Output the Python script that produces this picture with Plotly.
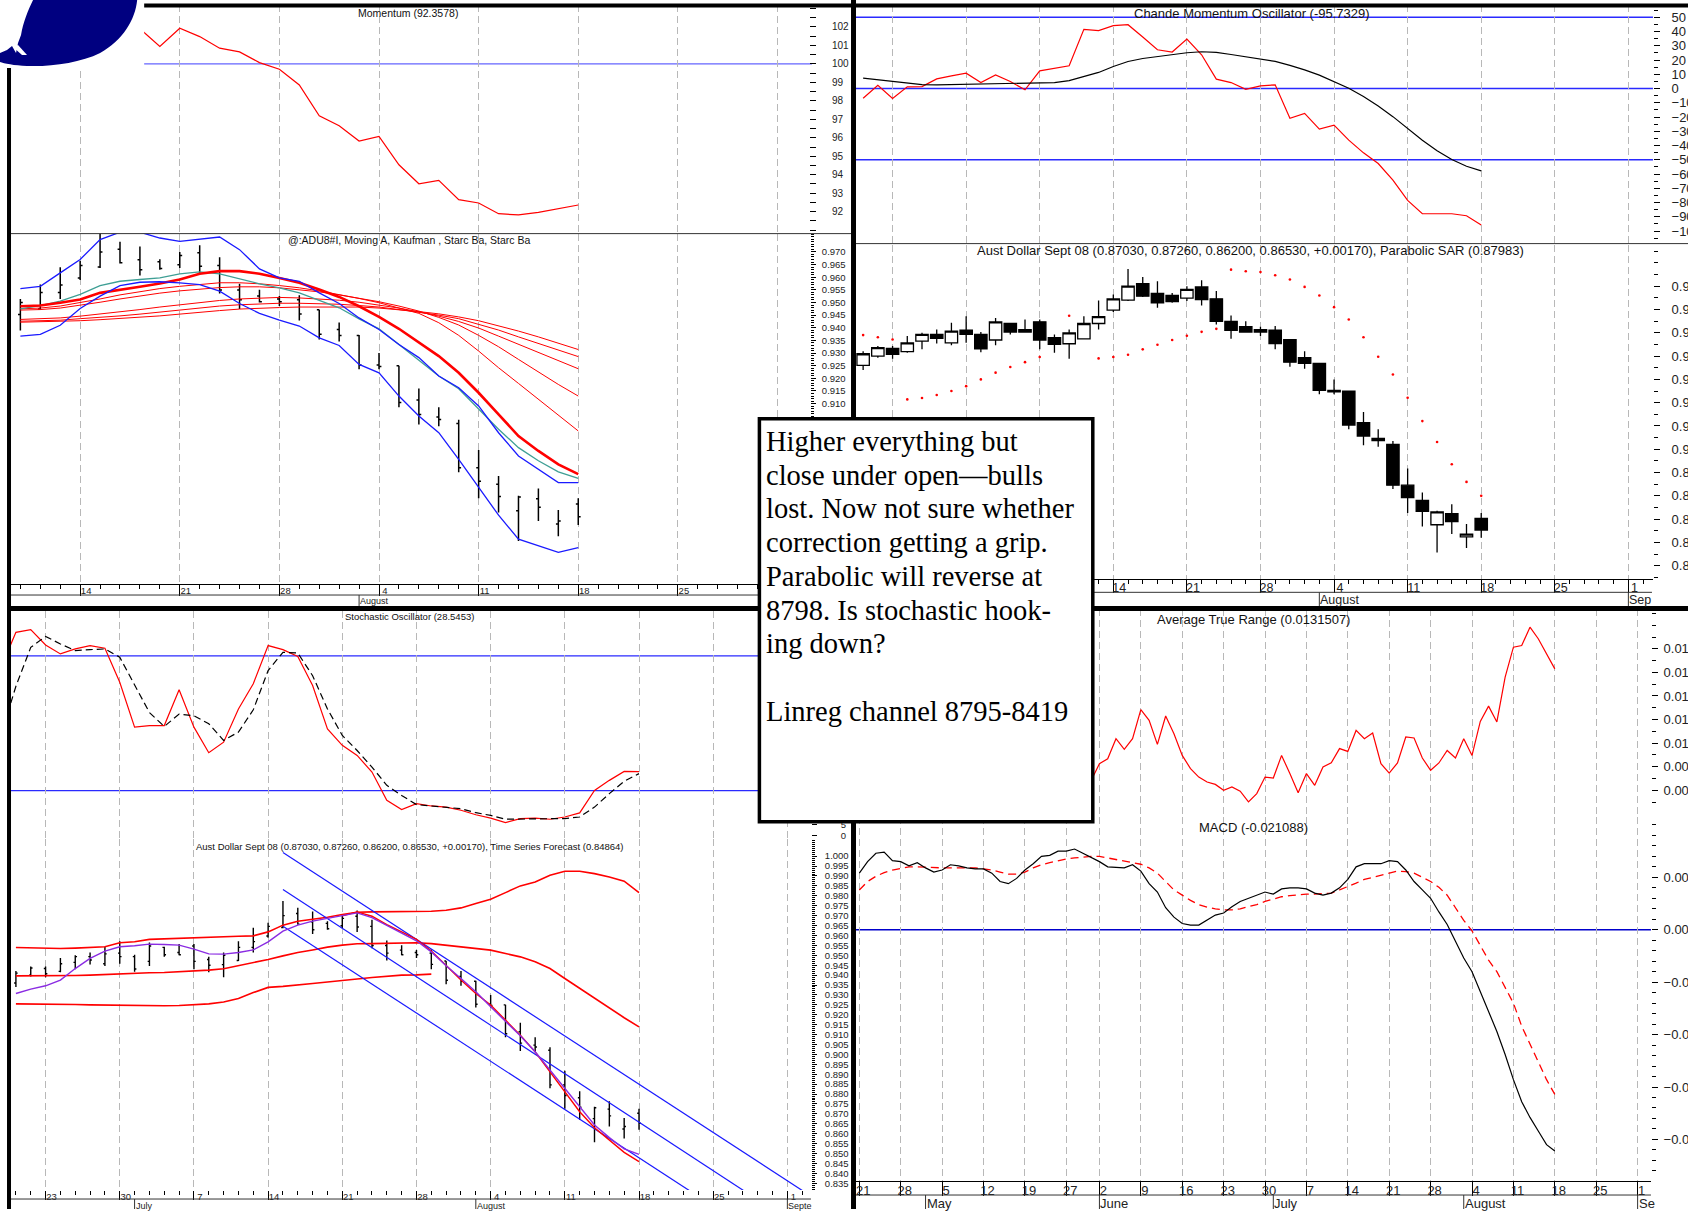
import re
import plotly.graph_objects as go

W, H = 1688, 1211          # design grid (target picture size)
FIG_W = 1704               # rendered page width (the page is captured at this width)
SANS = "Liberation Sans, Arial, sans-serif"
SERIF = "Liberation Serif, Times New Roman, serif"

# ---------------------------------------------------------------- data
# x = trading-day index, 0 = Monday 14 July 2008
bar_idx = list(range(-17, 26))
bar_open = [0.9360, 0.9400, 0.9433, 0.9419, 0.9464, 0.9493, 0.9457, 0.9511, 0.9493, 0.9469, 0.9540,
            0.9514, 0.9547, 0.9479, 0.9453, 0.9474, 0.9540, 0.9597, 0.9640, 0.9711, 0.9669, 0.9661,
            0.9649, 0.9697, 0.9646, 0.9549, 0.9526, 0.9514, 0.9511, 0.9471, 0.9393, 0.9369, 0.9253,
            0.9250, 0.9114, 0.9047, 0.9021, 0.8846, 0.8781, 0.8676, 0.8724, 0.8624, 0.8703]
bar_high = [0.9421, 0.9443, 0.9443, 0.9486, 0.9500, 0.9514, 0.9543, 0.9571, 0.9503, 0.9564, 0.9543,
            0.9557, 0.9557, 0.9493, 0.9514, 0.9571, 0.9639, 0.9664, 0.9774, 0.9740, 0.9721, 0.9671,
            0.9700, 0.9726, 0.9679, 0.9574, 0.9550, 0.9526, 0.9529, 0.9471, 0.9421, 0.9371, 0.9300,
            0.9250, 0.9160, 0.9086, 0.9036, 0.8917, 0.8814, 0.8736, 0.8764, 0.8679, 0.8726]
bar_low = [0.9340, 0.9393, 0.9389, 0.9414, 0.9429, 0.9454, 0.9446, 0.9457, 0.9417, 0.9446, 0.9493,
           0.9500, 0.9429, 0.9414, 0.9389, 0.9471, 0.9514, 0.9589, 0.9636, 0.9654, 0.9607, 0.9629,
           0.9636, 0.9617, 0.9536, 0.9474, 0.9500, 0.9486, 0.9429, 0.9354, 0.9346, 0.9236, 0.9236,
           0.9086, 0.9017, 0.9011, 0.8829, 0.8726, 0.8669, 0.8557, 0.8636, 0.8576, 0.8620]
bar_close = [0.9410, 0.9436, 0.9407, 0.9457, 0.9493, 0.9476, 0.9507, 0.9493, 0.9431, 0.9547, 0.9503,
             0.9503, 0.9469, 0.9450, 0.9500, 0.9540, 0.9569, 0.9646, 0.9700, 0.9657, 0.9629, 0.9634,
             0.9686, 0.9643, 0.9549, 0.9511, 0.9503, 0.9503, 0.9454, 0.9374, 0.9369, 0.9253, 0.9247,
             0.9104, 0.9057, 0.9037, 0.8846, 0.8793, 0.8733, 0.8731, 0.8690, 0.8636, 0.8653]
parabolic_sar = [0.9490, 0.9481, 0.9471, 0.9214, 0.9220, 0.9233, 0.9250, 0.9271, 0.9300, 0.9329, 0.9353,
                 0.9374, 0.9396, None, 0.9573, None, 0.9390, 0.9396, 0.9406, 0.9429, 0.9449, 0.9469,
                 0.9487, 0.9504, 0.9517, 0.9771, 0.9764, 0.9761, 0.9747, 0.9729, 0.9697, 0.9660, 0.9610,
                 0.9557, 0.9481, 0.9397, 0.9321, 0.9221, 0.9121, 0.9031, 0.8936, 0.8860, 0.8800]

# top-left: momentum + moving averages / Kaufman / Starc bands
mom_idx = list(range(3, 26))
momentum = [101.9, 100.94, 101.93, 101.48, 100.85, 100.65, 100.07, 99.71, 98.86, 97.19, 96.65, 95.82,
            96.07, 94.54, 93.51, 93.69, 92.65, 92.47, 91.89, 91.82, 91.96, 92.14, 92.36]
mom_level = [100]
tl_idx = list(range(-3, 26))
starc_upper = [0.9555, 0.9564, 0.9617, 0.9670, 0.9749, 0.9778, 0.9778, 0.9755, 0.9742, 0.9751, 0.9759,
               0.9709, 0.9633, 0.9597, 0.9584, 0.9538, 0.9496, 0.9439, 0.9393, 0.9334, 0.9282, 0.9209,
               0.9163, 0.9091, 0.8985, 0.8893, 0.8841, 0.8788, 0.8788]
starc_lower = [0.9367, 0.9374, 0.9410, 0.9476, 0.9525, 0.9567, 0.9580, 0.9582, 0.9578, 0.9571, 0.9545,
               0.9496, 0.9457, 0.9430, 0.9407, 0.9360, 0.9330, 0.9255, 0.9222, 0.9130, 0.9051, 0.8985,
               0.8880, 0.8768, 0.8659, 0.8564, 0.8538, 0.8512, 0.8531]
kaufman = [0.9475, 0.9488, 0.9505, 0.9532, 0.9567, 0.9584, 0.9591, 0.9597, 0.9613, 0.9621, 0.9613,
           0.9593, 0.9574, 0.9558, 0.9538, 0.9508, 0.9479, 0.9435, 0.9396, 0.9334, 0.9272, 0.9209,
           0.9159, 0.9078, 0.8999, 0.8926, 0.8874, 0.8830, 0.8804]
ma_fast = [0.9485, 0.9488, 0.9499, 0.9512, 0.9538, 0.9549, 0.9562, 0.9575, 0.9591, 0.9614, 0.9624,
           0.9624, 0.9614, 0.9597, 0.9578, 0.9551, 0.9522, 0.9485, 0.9443, 0.9396, 0.9341, 0.9288,
           0.9222, 0.9143, 0.9058, 0.8972, 0.8913, 0.8860, 0.8821]
ma_1 = [0.9475, 0.9478, 0.9486, 0.9499, 0.9514, 0.9530, 0.9543, 0.9555, 0.9564, 0.9572, 0.9578, 0.9578,
        0.9574, 0.9567, 0.9558, 0.9546, 0.9532, 0.9516, 0.9499, 0.9479, 0.9457, 0.9420, 0.9370, 0.9308,
        0.9242, 0.9180, 0.9117, 0.9054, 0.8992]
ma_2 = [0.9470, 0.9472, 0.9478, 0.9488, 0.9501, 0.9514, 0.9526, 0.9537, 0.9546, 0.9554, 0.9559, 0.9562,
        0.9562, 0.9558, 0.9551, 0.9542, 0.9530, 0.9517, 0.9503, 0.9486, 0.9466, 0.9441, 0.9411, 0.9370,
        0.9325, 0.9275, 0.9225, 0.9176, 0.9130]
ma_3 = [0.9433, 0.9436, 0.9439, 0.9446, 0.9454, 0.9463, 0.9472, 0.9482, 0.9491, 0.9500, 0.9508, 0.9514,
        0.9518, 0.9520, 0.9518, 0.9514, 0.9509, 0.9501, 0.9491, 0.9478, 0.9463, 0.9446, 0.9425, 0.9399,
        0.9367, 0.9334, 0.9301, 0.9268, 0.9238]
ma_4 = [0.9426, 0.9428, 0.9430, 0.9436, 0.9441, 0.9447, 0.9454, 0.9462, 0.9470, 0.9478, 0.9486, 0.9491,
        0.9495, 0.9497, 0.9497, 0.9496, 0.9493, 0.9488, 0.9482, 0.9472, 0.9462, 0.9450, 0.9436, 0.9414,
        0.9391, 0.9364, 0.9339, 0.9312, 0.9286]
ma_5 = [0.9422, 0.9424, 0.9425, 0.9428, 0.9432, 0.9436, 0.9441, 0.9447, 0.9454, 0.9462, 0.9468, 0.9474,
        0.9478, 0.9480, 0.9482, 0.9483, 0.9483, 0.9482, 0.9478, 0.9472, 0.9464, 0.9455, 0.9443, 0.9428,
        0.9408, 0.9387, 0.9364, 0.9339, 0.9314]

# top-right: Chande momentum oscillator
cmo_idx = list(range(-17, 26))
cmo = [-6.8, 2.3, -7.0, 1.2, 1.4, 6.8, 8.9, 10.8, 4.2, 9.6, 4.9, -0.9, 12.4, 14.1, 16.0, 41.5, 40.6,
       44.1, 44.8, 36.2, 27.2, 25.6, 34.7, 23.7, 6.6, 4.2, -0.5, 1.9, 2.6, -20.9, -17.4, -28.4, -25.6,
       -36.2, -45.1, -52.6, -64.3, -78.4, -87.8, -87.8, -87.8, -89.2, -95.7]
cmo_avg = [7.3, 6.1, 4.7, 3.8, 2.8, 2.6, 2.8, 2.8, 3.1, 3.1, 3.1, 3.3, 3.5, 4.2, 5.6, 8.5, 11.3, 15.5,
           19.0, 21.1, 22.5, 23.5, 25.1, 25.8, 25.4, 23.9, 22.1, 20.7, 19.0, 16.2, 13.1, 9.4, 4.9, 0.2,
           -5.6, -12.2, -19.7, -27.9, -36.2, -43.7, -49.8, -54.5, -57.7]
cmo_levels = [50, 0, -50]

# bottom-left: stochastic + time series forecast / bands / linreg channel
stoch_idx = list(range(-18, 26))
stoch_k = [75, 90.5, 91.7, 84.9, 80.9, 83.1, 84.6, 83.4, 68.3, 48.3, 49.0, 49.0, 64.9, 48.3, 36.9, 41.6,
           56.4, 67.6, 84.6, 82.8, 79.8, 66.8, 47.5, 40.2, 35.7, 28.3, 15.7, 11.6, 14.2, 13.2, 12.7, 11.3,
           9.3, 7.8, 5.8, 7.6, 7.8, 7.3, 8.3, 10.1, 20.1, 24.6, 28.6, 28.5]
stoch_d = [45, 66.5, 83.8, 88.7, 85.3, 82.4, 82.8, 83.1, 79.4, 66.8, 54.8, 48.6, 54.1, 53.4, 49.8, 42.4,
           46.1, 56.0, 73.5, 81.6, 81.3, 71.2, 56.4, 44.6, 37.9, 30.5, 22.4, 17.9, 13.8, 13.2, 12.7, 12.0,
           10.2, 9.0, 7.3, 7.3, 7.6, 7.6, 7.6, 8.3, 12.7, 18.7, 24.2, 27.6]
stoch_levels = [80, 20]
bl_idx = list(range(-17, 26))
band_top = [0.9539, 0.9538, 0.9534, 0.9534, 0.9536, 0.9538, 0.9543, 0.9563, 0.9568, 0.9580, 0.9583,
            0.9585, 0.9588, 0.9592, 0.9596, 0.9596, 0.9598, 0.9618, 0.9652, 0.9672, 0.9682, 0.9692,
            0.9706, 0.9717, 0.9719, 0.9719, 0.9719, 0.9719, 0.9722, 0.9727, 0.9739, 0.9761, 0.9783,
            0.9816, 0.9850, 0.9870, 0.9904, 0.9924, 0.9924, 0.9912, 0.9895, 0.9874, 0.9816]
band_mid = [0.9396, 0.9396, 0.9395, 0.9396, 0.9398, 0.9400, 0.9403, 0.9408, 0.9410, 0.9412, 0.9413,
            0.9417, 0.9420, 0.9425, 0.9432, 0.9447, 0.9464, 0.9479, 0.9497, 0.9514, 0.9527, 0.9541,
            0.9551, 0.9558, 0.9559, 0.9561, 0.9563, 0.9563, 0.9559, 0.9551, 0.9543, 0.9534, 0.9526,
            0.9509, 0.9492, 0.9467, 0.9433, 0.9383, 0.9333, 0.9282, 0.9232, 0.9185, 0.9139]
band_low_idx = list(range(-17, 12))
band_low = [0.9255, 0.9255, 0.9255, 0.9254, 0.9252, 0.9250, 0.9249, 0.9249, 0.9247, 0.9245, 0.9245,
            0.9247, 0.9250, 0.9255, 0.9264, 0.9282, 0.9312, 0.9338, 0.9343, 0.9349, 0.9358, 0.9365,
            0.9371, 0.9380, 0.9388, 0.9395, 0.9400, 0.9401, 0.9405]
tsf_smooth = [0.9307, 0.9329, 0.9346, 0.9375, 0.9433, 0.9484, 0.9521, 0.9543, 0.9548, 0.9556, 0.9554,
              0.9551, 0.9531, 0.9507, 0.9506, 0.9514, 0.9527, 0.9568, 0.9622, 0.9652, 0.9672, 0.9685,
              0.9699, 0.9714, 0.9690, 0.9652, 0.9615, 0.9573, 0.9517, 0.9447, 0.9383, 0.9316, 0.9240,
              0.9165, 0.9094, 0.9013, 0.8921, 0.8829, 0.8736, 0.8644, 0.8580, 0.8523, 0.8496]
tsf_idx = list(range(5, 26))
tsf = [0.9699, 0.9719, 0.9697, 0.9655, 0.9618, 0.9580, 0.9521, 0.9447, 0.9375, 0.9307, 0.9249, 0.9173,
       0.9097, 0.9013, 0.8913, 0.8809, 0.8711, 0.8630, 0.8568, 0.8506, 0.8459]
channel_idx = [1, 37]
channel_upper = [1.0018, 0.8265]
channel_mid = [0.9832, 0.8071]
channel_lower = [0.9647, 0.7894]

# bottom-right: ATR and MACD
atr_idx = list(range(-31, 26))
atr = [0.00842, 0.00913, 0.00934, 0.01019, 0.00974, 0.01019, 0.01142, 0.01097, 0.00995, 0.01115,
       0.01040, 0.00948, 0.00892, 0.00856, 0.00835, 0.00825, 0.00800, 0.00814, 0.00796, 0.00751,
       0.00786, 0.00856, 0.00852, 0.00948, 0.00871, 0.00790, 0.00871, 0.00821, 0.00899, 0.00917,
       0.00977, 0.00965, 0.01054, 0.01019, 0.01043, 0.00913, 0.00873, 0.00916, 0.01026, 0.01022,
       0.00937, 0.00885, 0.00916, 0.00969, 0.00937, 0.01019, 0.00948, 0.01092, 0.01157, 0.01090,
       0.01280, 0.01407, 0.01414, 0.01492, 0.01443, 0.01379, 0.01315]
macd_idx = list(range(-59, 26))
macd = [0.0054, 0.0065, 0.0073, 0.0074, 0.0066, 0.0065, 0.0061, 0.0064, 0.0059, 0.0055,
        0.0057, 0.0062, 0.0061, 0.0059, 0.0058, 0.0058, 0.0054, 0.0046, 0.0044, 0.0049,
        0.0057, 0.0063, 0.0070, 0.0071, 0.0075, 0.0075, 0.0077, 0.0073, 0.0069, 0.0065,
        0.0060, 0.00595, 0.0059, 0.0062, 0.0056, 0.0044, 0.0036, 0.0021, 0.0012, 0.0006,
        0.00045, 0.00045, 0.0009, 0.0014, 0.0016, 0.0022, 0.0027, 0.0030, 0.0033, 0.0036,
        0.0034, 0.0039, 0.0040, 0.0040, 0.0039, 0.0035, 0.0033, 0.0035, 0.0040, 0.0048,
        0.0060, 0.0063, 0.0063, 0.0063, 0.0066, 0.0065, 0.0057, 0.0046, 0.0038, 0.0030,
        0.0017, 0.0005, -0.0011, -0.0027, -0.0040, -0.0059, -0.0078, -0.0097, -0.0119, -0.0143,
        -0.0164, -0.0179, -0.0192, -0.0205, -0.0211]
macd_signal = [0.0038, 0.0046, 0.0051, 0.00545, 0.0057, 0.00585, 0.0060, 0.0060, 0.00595, 0.0059,
               0.0059, 0.0059, 0.0059, 0.0059, 0.0059, 0.0058, 0.0057, 0.0055, 0.0053, 0.0053,
               0.0055, 0.0059, 0.0062, 0.0064, 0.0066, 0.00675, 0.00685, 0.00695, 0.0070, 0.0070,
               0.00685, 0.0067, 0.00655, 0.0064, 0.00625, 0.0059, 0.0054, 0.0046, 0.0038, 0.0033,
               0.0028, 0.0024, 0.00215, 0.0020, 0.0019, 0.0019, 0.0020, 0.0022, 0.0024, 0.0027,
               0.00295, 0.00315, 0.00325, 0.00335, 0.0034, 0.0034, 0.00345, 0.0035, 0.0038, 0.0041,
               0.00445, 0.0048, 0.0050, 0.0052, 0.0054, 0.0056, 0.00555, 0.0054, 0.0050, 0.0046,
               0.00405, 0.0033, 0.0021, 0.0009, -0.0001, -0.0015, -0.0029, -0.0040, -0.0055, -0.0070,
               -0.0092, -0.0109, -0.0126, -0.0143, -0.0157]
macd_levels = [0]

# axis tick labels (Mondays) and month labels ("" where the note box hides them)
tl_mondays = [0, 5, 10, 15, 20, 25, 30, 35]
tl_day_labels = ["14", "21", "28", "4", "11", "18", "25", ""]
tl_months, tl_month_labels = [14], ["August"]
tr_mondays = [-15, -10, -5, 0, 5, 10, 15, 20, 25, 30, 35]
tr_day_labels = ["", "", "", "14", "21", "28", "4", "11", "18", "25", "1"]
tr_months, tr_month_labels = [14, 35], ["August", "Sep"]
bl_day_labels = ["23", "30", "7", "14", "21", "28", "4", "11", "18", "25", "1"]
bl_months, bl_month_labels = [-9, 14, 35], ["July", "August", "Septe"]
br_mondays = [-59, -54, -49, -44, -39, -34, -30, -25, -20, -15, -10, -5, 0, 5, 10, 15, 20, 25, 30, 35]
br_day_labels = ["21", "28", "5", "12", "19", "27", "2", "9", "16", "23", "30", "7", "14", "21",
                 "28", "4", "11", "18", "25", "1"]
br_months, br_month_labels = [-51, -30, -9, 14, 35], ["May", "June", "July", "August", "Se"]

titles = [
    ("Momentum (92.3578)", 408, 13.3, 10.5),
    ("@:ADU8#I, Moving A, Kaufman , Starc Ba, Starc Ba", 409.5, 240.7, 10.5),
    ("Chande Momentum Oscillator (-95.7329)", 1250.5, 13.3, 13),
    ("Aust Dollar Sept 08 (0.87030, 0.87260, 0.86200, 0.86530, +0.00170), Parabolic SAR (0.87983)",
     1249.3, 250.7, 13),
    ("Stochastic Oscillator (28.5453)", 409, 617.3, 9.5),
    ("Aust Dollar Sept 08 (0.87030, 0.87260, 0.86200, 0.86530, +0.00170), Time Series Forecast (0.84864)",
     410, 848.3, 9.5),
    ("Average True Range (0.0131507)", 1252, 620.7, 13),
    ("MACD (-0.021088)", 1252, 828.7, 13),
]
note_lines = ["Higher everything but", "close under open\u2014bulls", "lost. Now not sure whether",
              "correction getting a grip.", "Parabolic will reverse at", "8798. Is stochastic hook-",
              "ing down?", "", "Linreg channel 8795-8419"]


# ---------------------------------------------------------------- helpers
def PX(x):
    return x / W


def PY(y):
    return 1 - y / H


def steps(a, b, s, nd):
    n = int(round((b - a) / s))
    return [round(a + i * s, nd) for i in range(n + 1)]


GRID = dict(showgrid=True, gridcolor="#b8b8b8", griddash="7px,4px", gridwidth=1, zeroline=False,
            fixedrange=True)


def xaxis(dom, rng, anchor, mondays, labels=None, days=None, ticklen=11, fsize=9.5,
          shift=6, standoff=-11, line=True):
    d = dict(domain=[PX(dom[0]), PX(dom[1])], range=rng, anchor=anchor, tickmode="array",
             tickvals=mondays, **GRID)
    if labels is None:
        d.update(showticklabels=False, ticks="", showline=False)
    else:
        d.update(ticktext=labels, ticks="outside", ticklen=ticklen, tickcolor="black", tickwidth=1,
                 tickfont=dict(size=fsize, family=SANS, color="#222"), ticklabelshift=shift,
                 ticklabelstandoff=standoff, showline=line, linecolor="black", linewidth=1,
                 rangeslider=dict(visible=False))
        if days is not None:
            d["minor"] = dict(tickmode="array", tickvals=days, ticks="outside", ticklen=4,
                              tickcolor="black", tickwidth=1, showgrid=False)
    return d


def yaxis(dom, rng, pos, vals, minor_vals, fsize, standoff, fmt=None, ticklen=6, mlen=3):
    d = dict(domain=[PY(dom[1]), PY(dom[0])], range=rng, anchor="free", position=PX(pos), side="right",
             tickmode="array", tickvals=vals, ticks="outside", ticklen=ticklen, tickcolor="black",
             tickwidth=1, showgrid=False, zeroline=False, showline=False, fixedrange=True,
             tickfont=dict(size=fsize, family=SANS, color="#222"), ticklabelstandoff=standoff,
             minor=dict(tickmode="array", tickvals=minor_vals, ticks="outside", ticklen=mlen,
                        tickcolor="black", tickwidth=1, showgrid=False))
    if fmt:
        d["tickformat"] = fmt
    return d


def line(x, y, ax, color, width=1.2, dash=None):
    return go.Scatter(x=x, y=y, mode="lines", xaxis="x" + ax, yaxis="y" + ax, hoverinfo="skip",
                      line=dict(color=color, width=width, dash=dash))


RED = "#ff0000"
BLUE = "#1a1aff"

fig = go.Figure()
# --- top-left
fig.add_trace(line(mom_idx, momentum, "", RED, 1.2))
for s in (ma_5, ma_4, ma_3, ma_2, ma_1):
    fig.add_trace(line(tl_idx, s, "2", RED, 1.0))
fig.add_trace(line(tl_idx, kaufman, "2", "#3f9f95", 1.3))
fig.add_trace(line(tl_idx, ma_fast, "2", RED, 2.6))
fig.add_trace(line(tl_idx, starc_upper, "2", BLUE, 1.3))
fig.add_trace(line(tl_idx, starc_lower, "2", BLUE, 1.3))
fig.add_trace(go.Ohlc(x=bar_idx, open=bar_open, high=bar_high, low=bar_low, close=bar_close,
                      xaxis="x2", yaxis="y2", tickwidth=0.12,
                      increasing=dict(line=dict(color="black", width=1.5)),
                      decreasing=dict(line=dict(color="black", width=1.5))))
# --- top-right
fig.add_trace(line(cmo_idx, cmo, "3", RED, 1.2))
fig.add_trace(line(cmo_idx, cmo_avg, "3", "black", 1.2))
fig.add_trace(go.Candlestick(x=bar_idx, open=bar_open, high=bar_high, low=bar_low, close=bar_close,
                             xaxis="x4", yaxis="y4", whiskerwidth=0,
                             increasing=dict(fillcolor="white", line=dict(color="black", width=1.3)),
                             decreasing=dict(fillcolor="black", line=dict(color="black", width=1.3))))
fig.add_trace(go.Scatter(x=bar_idx, y=parabolic_sar, mode="markers", xaxis="x4", yaxis="y4",
                         marker=dict(color=RED, size=2.6), hoverinfo="skip"))
# --- bottom-left
fig.add_trace(line(stoch_idx, stoch_k, "5", RED, 1.2))
fig.add_trace(line(stoch_idx, stoch_d, "5", "black", 1.2, "7px,4px"))
fig.add_trace(line(bl_idx, band_top, "6", RED, 1.6))
fig.add_trace(line(bl_idx, band_mid, "6", RED, 1.6))
fig.add_trace(line(band_low_idx, band_low, "6", RED, 1.6))
fig.add_trace(line(channel_idx, channel_upper, "6", BLUE, 1.2))
fig.add_trace(line(channel_idx, channel_mid, "6", BLUE, 1.2))
fig.add_trace(line(channel_idx, channel_lower, "6", BLUE, 1.2))
fig.add_trace(line(tsf_idx, tsf, "6", RED, 1.4))
fig.add_trace(line(bl_idx, tsf_smooth, "6", "#8a2be2", 1.4))
fig.add_trace(go.Ohlc(x=bar_idx, open=bar_open, high=bar_high, low=bar_low, close=bar_close,
                      xaxis="x6", yaxis="y6", tickwidth=0.12,
                      increasing=dict(line=dict(color="black", width=1.4)),
                      decreasing=dict(line=dict(color="black", width=1.4))))
# --- bottom-right
fig.add_trace(line(atr_idx, atr, "7", RED, 1.2))
fig.add_trace(line(macd_idx, macd_signal, "8", RED, 1.3, "8px,5px"))
fig.add_trace(line(macd_idx, macd, "8", "black", 1.2))

tl_days = list(range(-3, 37))
tr_days = list(range(-17, 37))
TLX, TLR = (11, 811), [-3.47, 36.73]
TRX, TRR = (853, 1651), [-17.62, 36.67]
BLX, BLR = (11, 810), [-17.33, 36.59]
BRX, BRR = (853, 1649), [-59.64, 36.61]

layout = dict(
    width=FIG_W, height=H, margin=dict(l=0, r=0, t=0, b=0, pad=0), autosize=False,
    paper_bgcolor="white", plot_bgcolor="white", showlegend=False, boxgap=0.16, boxgroupgap=0,
    font=dict(family=SANS, color="#111"),
    xaxis=xaxis(TLX, TLR, "y", tl_mondays),
    xaxis2=xaxis(TLX, TLR, "y2", tl_mondays, tl_day_labels, tl_days, standoff=-13),
    xaxis3=xaxis(TRX, TRR, "y3", tr_mondays),
    xaxis4=xaxis(TRX, TRR, "y4", tr_mondays, tr_day_labels, tr_days, ticklen=13, fsize=12.5,
                 standoff=-16),
    xaxis5=xaxis(BLX, BLR, "y5", tr_mondays),
    xaxis6=xaxis(BLX, BLR, "y6", tr_mondays, bl_day_labels, tr_days, ticklen=9, standoff=-11,
                 line=False),
    xaxis7=xaxis(BRX, BRR, "y7", br_mondays),
    xaxis8=xaxis(BRX, BRR, "y8", br_mondays, br_day_labels, None, ticklen=14, fsize=13, shift=4,
                 standoff=-17),
    yaxis=yaxis((5, 234), [90.81, 103.19], 808, list(range(92, 103)), steps(91, 103, 0.5, 1), 10, 14,
                ticklen=6, mlen=6),
    yaxis2=yaxis((234, 585), [0.83866, 0.97724], 809, steps(0.91, 0.97, 0.005, 3),
                 steps(0.839, 0.977, 0.001, 3), 9.5, 4, ".3f", ticklen=5, mlen=3),
    yaxis3=yaxis((5, 245), [-109.45, 58.61], 1651, list(range(-100, 51, 10)), steps(-105, 55, 5, 0),
                 13, 9, ticklen=6, mlen=4),
    yaxis4=yaxis((245, 580), [0.84429, 0.98786], 1651, steps(0.85, 0.97, 0.01, 2),
                 steps(0.845, 0.985, 0.005, 3), 13, 9, ".3f", ticklen=6, mlen=4),
    yaxis5=yaxis((612, 840), [-1.33, 100], 810, [0, 5], steps(10, 100, 5, 0), 9.5, 22, ticklen=5,
                 mlen=5),
    yaxis6=yaxis((840, 1192), [0.83158, 1.00885], 810, steps(0.835, 1.0, 0.005, 3),
                 steps(0.832, 1.008, 0.001, 3), 9.5, 6, ".3f", ticklen=5, mlen=3),
    yaxis7=yaxis((610, 815), [0.00701, 0.01569], 1649, steps(0.008, 0.014, 0.001, 3),
                 steps(0.0075, 0.0155, 0.0005, 4), 13, 3, ".3f", ticklen=6, mlen=4),
    yaxis8=yaxis((818, 1183), [-0.02397, 0.01079], 1649, steps(-0.02, 0.005, 0.005, 3),
                 steps(-0.023, 0.010, 0.001, 3), 13, 3, ".3f", ticklen=6, mlen=4),
)

shapes = []
# horizontal reference levels
for v in mom_level:
    shapes.append(dict(type="line", xref="x domain", yref="y", x0=0, x1=1, y0=v, y1=v, layer="below",
                       line=dict(color="#6464ff", width=1.2)))
for v in cmo_levels:
    shapes.append(dict(type="line", xref="x3 domain", yref="y3", x0=0, x1=1, y0=v, y1=v, layer="below",
                       line=dict(color="#2a2aff", width=1.5)))
for v in stoch_levels:
    shapes.append(dict(type="line", xref="x5 domain", yref="y5", x0=0, x1=1, y0=v, y1=v, layer="below",
                       line=dict(color="#2a2aff", width=1.3)))
for v in macd_levels:
    shapes.append(dict(type="line", xref="x8 domain", yref="y8", x0=0, x1=1, y0=v, y1=v, layer="below",
                       line=dict(color="#0000cc", width=1.5)))


def pline(x0, y0, x1, y1, width, color="black"):
    return dict(type="line", xref="paper", yref="paper", x0=PX(x0), x1=PX(x1), y0=PY(y0), y1=PY(y1),
                line=dict(color=color, width=width), layer="above")


# panel separators and month-row lines
shapes += [pline(11, 234, 851, 234, 1, "#333"), pline(855, 244, 1688, 244, 1, "#333"),
           pline(11, 596, 810, 596, 1, "#333"), pline(855, 593.3, 1650, 593.3, 1, "#333"),
           pline(11, 1201, 810, 1201, 1, "#333"), pline(855, 1197, 1649, 1197, 1, "#333")]
for xr, months, y0, y1 in (("x2", tl_months, 596, 607), ("x4", tr_months, 593.3, 607),
                           ("x6", bl_months, 1201, 1211), ("x8", br_months, 1197, 1211)):
    for m in months:
        shapes.append(dict(type="line", xref=xr, yref="paper", x0=m, x1=m, y0=PY(y0), y1=PY(y1),
                           line=dict(color="#333", width=1), layer="above"))


# logo
def px_path(p):
    return re.sub(r"(-?\d+\.?\d*),(-?\d+\.?\d*)",
                  lambda m: f"{float(m.group(1)) / W:.5f},{1 - float(m.group(2)) / H:.5f}", p)


shapes.append(dict(type="rect", xref="paper", yref="paper", x0=0, x1=PX(144), y0=PY(68), y1=1,
                   fillcolor="white", line=dict(width=0), layer="above"))
shapes.append(dict(type="path", xref="paper", yref="paper", layer="above", fillcolor="#000080",
                   line=dict(width=0),
                   path=px_path("M33,0 L137,0 C135,20 123,40 100,53 C80,63 50,67 27,66 C14,65.5 4,63.5 0,62 "
                                "L0,53 L7,50 L12,46 L16,53 L18,43 L21,35 C23,23 28,10 33,0 Z")))
shapes.append(dict(type="path", xref="paper", yref="paper", layer="above", fillcolor="white",
                   line=dict(width=0), path=px_path("M13,47 L22,55 L27,55 L18,45 Z")))
# thick frame lines
shapes += [pline(144, 5.5, 1688, 5.5, 4), pline(9, 68, 9, 1211, 4), pline(852.5, 0, 852.5, 1211, 5),
           pline(9, 609.5, 1688, 609.5, 5)]
# text box
shapes.append(dict(type="rect", xref="paper", yref="paper", x0=PX(758.5), x1=PX(1091.5), y0=PY(823),
                   y1=PY(419.5), fillcolor="white", line=dict(color="black", width=3.5), layer="above"))
layout["shapes"] = shapes

ann = []
for text, cx, cy, fs in titles:
    ann.append(dict(text=text, x=PX(cx), y=PY(cy), xref="paper", yref="paper", showarrow=False,
                    xanchor="center", yanchor="middle", font=dict(size=fs, family=SANS, color="#111")))
for xr, months, labels, yc, fs in (("x2", tl_months, tl_month_labels, 601.5, 9),
                                   ("x4", tr_months, tr_month_labels, 600.5, 12.5),
                                   ("x6", bl_months, bl_month_labels, 1207.8, 9),
                                   ("x8", br_months, br_month_labels, 1205, 13)):
    for m, t in zip(months, labels):
        ann.append(dict(text=t, x=m, y=PY(yc), xref=xr, yref="paper", showarrow=False, xanchor="left",
                        yanchor="middle", xshift=0, borderpad=0,
                        font=dict(size=fs, family=SANS, color="#222")))
base0, lead = 451.7, 33.8
for i, t in enumerate(note_lines):
    if not t:
        continue
    ann.append(dict(text=t, x=PX(764), y=PY(base0 + i * lead - 9.6), xref="paper", yref="paper",
                    showarrow=False, xanchor="left", yanchor="middle", borderpad=0,
                    font=dict(size=28.5, family=SERIF, color="black")))
layout["annotations"] = ann

fig.update_layout(**layout)

# page without the browser's default body margin, so the figure sits at the window's top-left
post = ("document.body.style.margin='0';document.body.style.padding='0';"
        "document.body.style.overflow='hidden';"
        "var gd=document.getElementById('{plot_id}');gd.style.position='absolute';"
        "gd.style.left='0px';gd.style.top='0px';")
fig.write_html("out.html", post_script=post, config={"displayModeBar": False})
